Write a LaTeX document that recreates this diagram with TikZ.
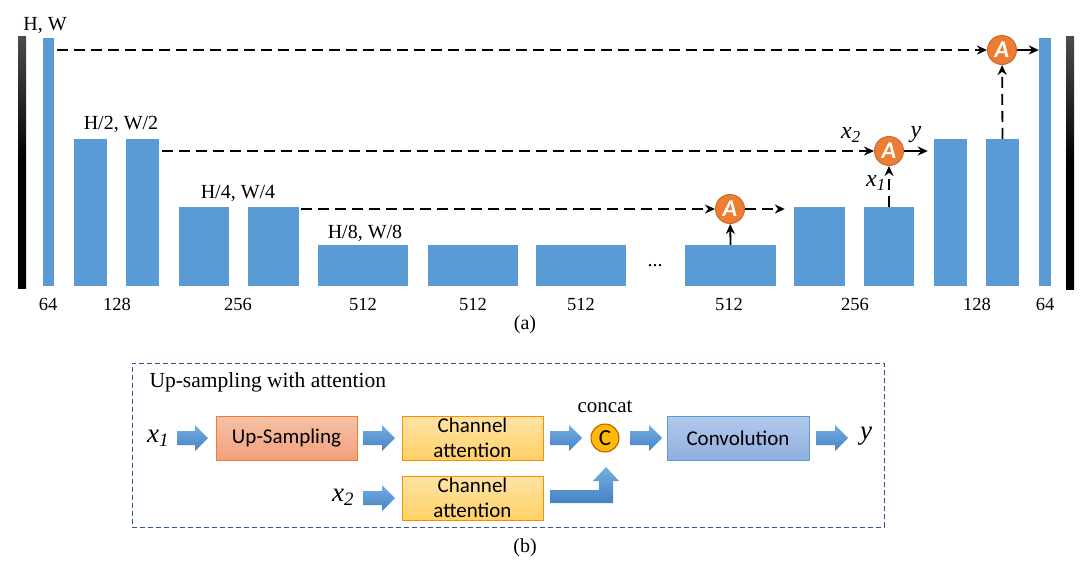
\documentclass[tikz,border=0pt]{standalone}
\usepackage{fontspec}
\setmainfont{Liberation Serif}
\newfontfamily\boxfont{Carlito}
\usetikzlibrary{arrows.meta,fit,calc}
\definecolor{barblue}{HTML}{5B9BD5}
\definecolor{attnorange}{HTML}{ED7D31}
\definecolor{attnedge}{HTML}{C86A35}
\definecolor{frameblue}{HTML}{2F5597}
\definecolor{upTop}{HTML}{F6C1A6}
\definecolor{upBot}{HTML}{F3A07C}
\definecolor{caTop}{HTML}{FFE3A6}
\definecolor{caBot}{HTML}{FFD166}
\definecolor{cvTop}{HTML}{B4C9EA}
\definecolor{cvBot}{HTML}{8FAEDF}
\definecolor{arTop}{HTML}{74AEE3}
\definecolor{arBot}{HTML}{4682C4}
\tikzset{
  bar/.style={fill=barblue, draw=none, inner sep=0pt},
  blackbar/.style={top color=black!70, bottom color=black, middle color=black, draw=none, inner sep=0pt},
  attn/.style={circle, fill=attnorange, draw=attnedge, line width=1pt, minimum size=29pt, inner sep=0pt,
    text=white, font=\boxfont\bfseries\itshape\fontsize{24}{24}\selectfont},
  dimlbl/.style={font=\fontsize{20}{22}\selectfont},
  numlbl/.style={font=\fontsize{18.5}{20}\selectfont},
  dl/.style={draw=black, line width=1.8pt, dash pattern=on 11pt off 6pt, -{Stealth[length=10pt,width=9pt]}},
  sl/.style={draw=black, line width=1.8pt, -{Stealth[length=10pt,width=9pt]}},
  blk/.style={draw, line width=1pt, minimum width=141pt, minimum height=44pt, inner sep=0pt, align=center,
    font=\boxfont\fontsize{21}{25}\selectfont},
  barrow/.style={top color=arTop, bottom color=arBot, draw=none},
  mathlbl/.style={font=\fontsize{27}{27}\selectfont\itshape},
  mathlbla/.style={font=\fontsize{24}{24}\selectfont\itshape},
}
\newcommand\blkarrow[3]{\shade[barrow] (#1,#3-7) -- (#2-13,#3-7) -- (#2-13,#3-13) -- (#2,#3) -- (#2-13,#3+13) -- (#2-13,#3+7) -- (#1,#3+7) -- cycle;}
\begin{document}
\begin{tikzpicture}[x=1pt,y=-1pt]
\useasboundingbox (0,0) rectangle (1090,573);
% ---------- (a) ----------
\node[blackbar, fit={(18,36)(26,288)}] (blackL) {};
\node[blackbar, fit={(1066,36)(1074,289)}] (blackR) {};
\node[bar, fit={(43,38)(54,286)}] (lb64) {};
\node[bar, fit={(74,139)(107,286)}] (lb128a) {};
\node[bar, fit={(126,139)(159,286)}] (lb128b) {};
\node[bar, fit={(179,207)(229,286)}] (lb256a) {};
\node[bar, fit={(248,207)(299,286)}] (lb256b) {};
\node[bar, fit={(318,245)(408,286)}] (m512a) {};
\node[bar, fit={(428,245)(518,286)}] (m512b) {};
\node[bar, fit={(536,245)(626,286)}] (m512c) {};
\node[bar, fit={(685,245)(776,286)}] (r512) {};
\node[bar, fit={(794,207)(845,286)}] (r256a) {};
\node[bar, fit={(864,207)(914,286)}] (r256b) {};
\node[bar, fit={(934,139)(967,286)}] (r128a) {};
\node[bar, fit={(986,139)(1019,286)}] (r128b) {};
\node[bar, fit={(1039,38)(1051,286)}] (r64) {};

\node[dimlbl] (dHW) at (45,25) {H, W};
\node[dimlbl] (dH2) at (121,124) {H/2, W/2};
\node[dimlbl] (dH4) at (238,193) {H/4, W/4};
\node[dimlbl] (dH8) at (365,233) {H/8, W/8};
\node[dimlbl] (dots) at (655,266) {...};

\node[numlbl] (n1) at (48,304) {64};
\node[numlbl] (n2) at (117,304) {128};
\node[numlbl] (n3) at (238,304) {256};
\node[numlbl] (n4) at (363,304) {512};
\node[numlbl] (n5) at (473,304) {512};
\node[numlbl] (n6) at (581,304) {512};
\node[numlbl] (n7) at (729,304) {512};
\node[numlbl] (n8) at (855,304) {256};
\node[numlbl] (n9) at (977,304) {128};
\node[numlbl] (n10) at (1045,304) {64};
\node[dimlbl] (capa) at (525,325) {(a)};

\node[attn] (A1) at (730,209) {A};
\node[attn] (A2) at (889,151) {A};
\node[attn] (A3) at (1002,50) {A};

\draw[dl] ($(lb64.east |- A3)+(3,0)$) -- (A3);
\draw[sl] (A3) -- (r64.west |- A3);
\draw[dl] (r128b.north) -- (A3);
\draw[dl] ($(lb128b.east |- A2)+(3,0)$) -- (A2);
\draw[sl] (A2) -- ($(r128a.west |- A2)+(-6,0)$);
\draw[dl] (r256b.north) -- (A2);
\draw[dl] ($(lb256b.east |- A1)+(2,0)$) -- (A1);
\draw[dl] (A1) -- ($(r256a.west |- A1)+(-9,0)$);
\draw[sl] (r512.north) -- (A1);

\node[mathlbla] (lx2) at (851,135) {x\textsubscript{2}};
\node[mathlbla] (ly) at (916,135) {y};
\node[mathlbla] (lx1) at (876,183) {x\textsubscript{1}};

% ---------- (b) ----------
\node[draw=frameblue, line width=0.9pt, dash pattern=on 5pt off 3pt, inner sep=0pt, fit={(132,363)(884,527)}] (frame) {};
\node[font=\fontsize{21.5}{23}\selectfont, anchor=west] (title) at (146,382) {Up-sampling with attention};

\node[blk, draw=attnorange, top color=upTop, bottom color=upBot] (up) at (286.5,438) {Up-Sampling};
\node[blk, draw=orange!90!yellow, top color=caTop, bottom color=caBot] (ca1) at (472.5,438) {Channel\\attention};
\node[blk, draw=orange!90!yellow, top color=caTop, bottom color=caBot] (ca2) at (472.5,498) {Channel\\attention};
\node[circle, minimum size=28pt, inner sep=0pt, fill=orange!55!yellow, draw=orange!70!black, line width=1pt,
  font=\boxfont\fontsize{23}{23}\selectfont] (cc) at (605,438) {C};
\node[font=\fontsize{21}{23}\selectfont] (concat) at (605,407) {concat};
\node[blk, minimum width=142pt, draw=barblue, top color=cvTop, bottom color=cvBot] (conv) at (738,438) {Convolution};

\node[mathlbl] (bx1) at (158,438) {x\textsubscript{1}};
\node[mathlbl] (bx2) at (343,497) {x\textsubscript{2}};
\node[mathlbl] (by) at (866,436) {y};

\blkarrow{177}{208}{438}
\blkarrow{363}{395}{438}
\blkarrow{550}{582}{438}
\blkarrow{630}{662}{438}
\blkarrow{816}{848}{438}
\blkarrow{363}{395}{498}
\shade[barrow] (550,490) -- (599,490) -- (599,481) -- (593,481) -- (606,467) -- (619,481) -- (613,481) -- (613,503) -- (550,503) -- cycle;

\node[dimlbl] (capb) at (525,548) {(b)};
\end{tikzpicture}
\end{document}
